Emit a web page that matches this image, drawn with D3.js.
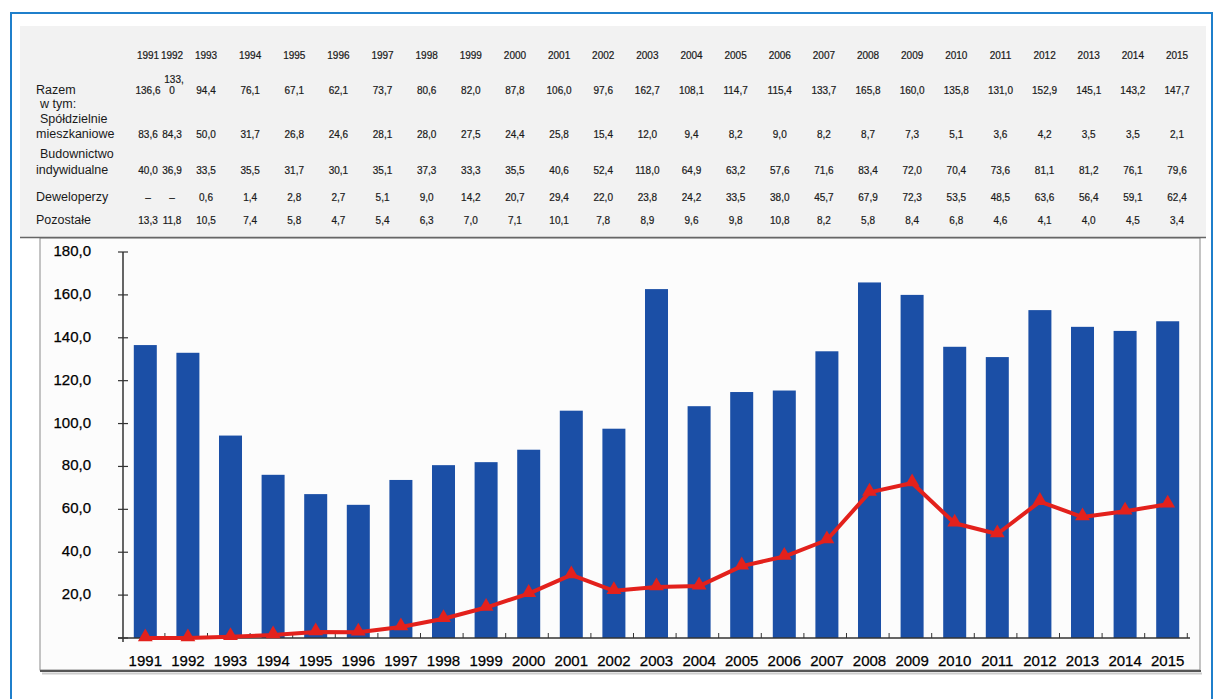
<!DOCTYPE html>
<html>
<head>
<meta charset="utf-8">
<script src="https://cdn.jsdelivr.net/npm/d3@7"></script>
<style>
  body { margin: 0; background: #fff; }
  svg { display: block; font-family: "Liberation Sans", Arial, sans-serif; }
</style>
</head>
<body>
<div></div>
<script>
const years = ["1991","1992","1993","1994","1995","1996","1997","1998","1999","2000","2001","2002","2003","2004","2005","2006","2007","2008","2009","2010","2011","2012","2013","2014","2015"];
const razem = [136.6,133.0,94.4,76.1,67.1,62.1,73.7,80.6,82.0,87.8,106.0,97.6,162.7,108.1,114.7,115.4,133.7,165.8,160.0,135.8,131.0,152.9,145.1,143.2,147.7];
const spoldzielnie = [83.6,84.3,50.0,31.7,26.8,24.6,28.1,28.0,27.5,24.4,25.8,15.4,12.0,9.4,8.2,9.0,8.2,8.7,7.3,5.1,3.6,4.2,3.5,3.5,2.1];
const indywidualne = [40.0,36.9,33.5,35.5,31.7,30.1,35.1,37.3,33.3,35.5,40.6,52.4,118.0,64.9,63.2,57.6,71.6,83.4,72.0,70.4,73.6,81.1,81.2,76.1,79.6];
const deweloperzy = [null,null,0.6,1.4,2.8,2.7,5.1,9.0,14.2,20.7,29.4,22.0,23.8,24.2,33.5,38.0,45.7,67.9,72.3,53.5,48.5,63.6,56.4,59.1,62.4];
const pozostale = [13.3,11.8,10.5,7.4,5.8,4.7,5.4,6.3,7.0,7.1,10.1,7.8,8.9,9.6,9.8,10.8,8.2,5.8,8.4,6.8,4.6,4.1,4.0,4.5,3.4];
const yTicks = [20,40,60,80,100,120,140,160,180];

const width = 1223, height = 699;
const fmt = v => v == null ? "–" : d3.format(".1f")(v).replace(".", ",");

const svg = d3.select("body>div").append("svg")
    .attr("width", width).attr("height", height);

// table background + chart panel
svg.append("rect").attr("x", 20).attr("y", 26).attr("width", 1186).attr("height", 212)
    .attr("fill", "#f2f2f2");
svg.append("rect").attr("x", 40).attr("y", 238).attr("width", 1160).attr("height", 432)
    .attr("fill", "#fcfcfc").attr("stroke", "#8a8a8a").attr("stroke-width", 1);
svg.append("line").attr("x1", 20).attr("x2", 1206).attr("y1", 237.5).attr("y2", 237.5)
    .attr("stroke", "#666").attr("stroke-width", 1.5);
svg.append("line").attr("x1", 40).attr("x2", 1201).attr("y1", 671).attr("y2", 671)
    .attr("stroke", "#555").attr("stroke-width", 2);
svg.append("line").attr("x1", 42).attr("x2", 1202).attr("y1", 673.5).attr("y2", 673.5)
    .attr("stroke", "#ccc").attr("stroke-width", 2);

// outer blue frame
svg.append("path").attr("d", "M11,700 V13 H1212 V700")
    .attr("fill", "none").attr("stroke", "#1f7fcb").attr("stroke-width", 2);

// ---- table ----
const colX = d3.scaleLinear().domain([2, 24]).range([206, 1177]);
const tx = i => i === 0 ? 148 : i === 1 ? 172 : colX(i);

const table = svg.append("g").attr("font-size", 10).attr("fill", "#1a1a1a")
    .attr("stroke", "#1a1a1a").attr("stroke-width", 0.2);

table.selectAll("text.year").data(years).join("text")
    .attr("class", "year")
    .attr("x", (d, i) => tx(i)).attr("y", 56)
    .attr("text-anchor", "middle").attr("dominant-baseline", "middle")
    .text(d => d);

const labels = [
    {t: "Razem", y: 91}, {t: "w tym:", y: 105, dx: 4}, {t: "Spółdzielnie", y: 120, dx: 4},
    {t: "mieszkaniowe", y: 135}, {t: "Budownictwo", y: 155, dx: 4}, {t: "indywidualne", y: 171},
    {t: "Deweloperzy", y: 198}, {t: "Pozostałe", y: 221}
];
svg.append("g").attr("font-size", 12.5).attr("fill", "#1a1a1a")
    .selectAll("text").data(labels).join("text")
    .attr("x", d => 36 + (d.dx || 0)).attr("y", d => d.y)
    .attr("dominant-baseline", "middle")
    .text(d => d.t);

const rows = [
    {vals: razem, y: 91},
    {vals: spoldzielnie, y: 135},
    {vals: indywidualne, y: 171},
    {vals: deweloperzy, y: 198},
    {vals: pozostale, y: 221}
];
rows.forEach(r => {
    r.vals.forEach((v, i) => {
        const s = fmt(v);
        // narrow column: wrap wide numbers
        if (i === 1 && s.length > 4) {
            const parts = s.split(",");
            table.append("text").attr("x", tx(i) + 2).attr("y", r.y - 11)
                .attr("text-anchor", "middle").attr("dominant-baseline", "middle").text(parts[0] + ",");
            table.append("text").attr("x", tx(i)).attr("y", r.y)
                .attr("text-anchor", "middle").attr("dominant-baseline", "middle").text(parts[1]);
        } else {
            table.append("text").attr("x", tx(i)).attr("y", r.y)
                .attr("text-anchor", "middle").attr("dominant-baseline", "middle").text(s);
        }
    });
});

// ---- chart ----
const x = d3.scaleBand().domain(years).range([124, 1189]).paddingInner(0.46).paddingOuter(0.23);
const y = d3.scaleLinear().domain([0, 180]).range([638, 252]);

svg.append("g").selectAll("rect").data(razem).join("rect")
    .attr("x", (d, i) => x(years[i]))
    .attr("width", x.bandwidth())
    .attr("y", d => y(d))
    .attr("height", d => y(0) - y(d))
    .attr("fill", "#1b4fa6");

// y axis
const yAxis = svg.append("g");
yAxis.append("line").attr("x1", 123).attr("x2", 123).attr("y1", y(180)).attr("y2", y(0) + 4)
    .attr("stroke", "#333").attr("stroke-width", 1.5);
yAxis.selectAll("line.tick").data([0].concat(yTicks)).join("line")
    .attr("class", "tick")
    .attr("x1", 118).attr("x2", 128)
    .attr("y1", d => y(d)).attr("y2", d => y(d))
    .attr("stroke", "#333").attr("stroke-width", 1.2);
yAxis.selectAll("text").data(yTicks).join("text")
    .attr("x", 91).attr("y", d => y(d))
    .attr("text-anchor", "end").attr("dominant-baseline", "middle")
    .attr("font-size", 15).attr("fill", "#000")
    .attr("stroke", "#000").attr("stroke-width", 0.25)
    .text(d => fmt(d));

// x axis
const xAxis = svg.append("g");
xAxis.append("line").attr("x1", 118).attr("x2", 1190).attr("y1", y(0)).attr("y2", y(0))
    .attr("stroke", "#333").attr("stroke-width", 1.5);
xAxis.selectAll("line.tick").data(years).join("line")
    .attr("class", "tick")
    .attr("x1", d => x(d) + x.step() * 0.73).attr("x2", d => x(d) + x.step() * 0.73)
    .attr("y1", y(0)).attr("y2", y(0) - 5)
    .attr("stroke", "#333").attr("stroke-width", 1);
xAxis.selectAll("text").data(years).join("text")
    .attr("x", d => x(d) + x.bandwidth() / 2).attr("y", 662)
    .attr("text-anchor", "middle").attr("dominant-baseline", "middle")
    .attr("font-size", 15).attr("fill", "#000")
    .attr("stroke", "#000").attr("stroke-width", 0.25)
    .text(d => d);

// red line (deweloperzy)
const pts = deweloperzy.map((v, i) => [x(years[i]) + x.bandwidth() / 2, y(v == null ? 0 : v)]);
svg.append("path").datum(pts)
    .attr("d", d3.line())
    .attr("fill", "none").attr("stroke", "#e3211c").attr("stroke-width", 4)
    .attr("stroke-linejoin", "round");
svg.append("g").selectAll("path").data(pts).join("path")
    .attr("transform", d => `translate(${d[0]},${d[1] - 1})`)
    .attr("d", d3.symbol(d3.symbolTriangle, 95))
    .attr("fill", "#e3211c");
</script>
</body>
</html>
